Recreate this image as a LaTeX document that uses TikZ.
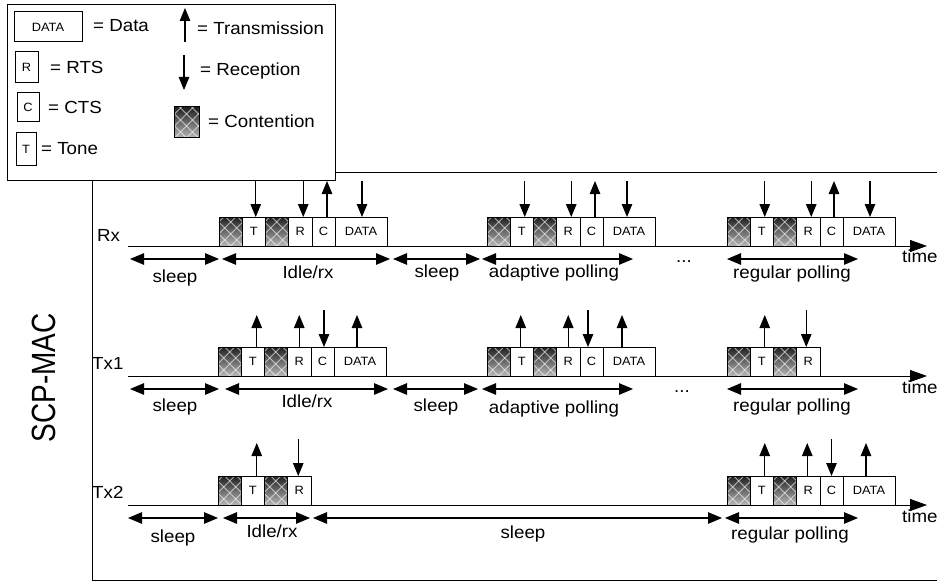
\documentclass[tikz,border=0pt]{standalone}
\usepackage{fontspec}
\setmainfont{Liberation Sans}[FakeStretch=1.07]
\newfontfamily\titlefont{Liberation Sans}
\usetikzlibrary{arrows.meta}
\newcommand{\fullseq}[3]{%
  \node[contbox] (#1c1) at (#2,#3) {};
  \node[tbox] (#1t) at (#1c1.south east) {T};
  \node[contbox] (#1c2) at (#1t.south east) {};
  \node[rbox] (#1r) at (#1c2.south east) {R};
  \node[cbox] (#1c) at (#1r.south east) {C};
  \node[databox] (#1d) at (#1c.south east) {DATA};
}
\newcommand{\shortseq}[3]{%
  \node[contbox] (#1c1) at (#2,#3) {};
  \node[tbox] (#1t) at (#1c1.south east) {T};
  \node[contbox] (#1c2) at (#1t.south east) {};
  \node[rbox] (#1r) at (#1c2.south east) {R};
}
\newcommand{\upsig}[3]{\draw[upar] ([xshift=#2pt]#1.north) -- ++(0,-#3);}
\newcommand{\dnsig}[3]{\draw[dnar] ([xshift=#2pt]#1.north) -- ++(0,-#3);}
\newcommand{\spanar}[4]{%
  \coordinate (#1a) at (#2,#4);
  \coordinate (#1b) at (#3,#4);
  \draw[spanar] (#1a) -- (#1b);
}
\newcommand{\lab}[4]{\node[lbl] (#1) at (#2,#3) {#4};}
\begin{document}
\begin{tikzpicture}[x=1pt,y=-1pt,
  lw/.style={line width=1pt},
  pktbase/.style={draw, line width=1pt, inner sep=0pt, outer sep=0pt,
    minimum height=29pt, anchor=south west, font=\fontsize{12}{13}\selectfont},
  pkt/.style={pktbase, fill=white},
  contbox/.style={pktbase, minimum width=23.5pt, top color=black!88, bottom color=black!28,
    path picture={
      \foreach \k in {-4,...,4}{
        \draw[white, opacity=0.6, line width=1pt]
          ([xshift=\k*12pt]path picture bounding box.south) -- ++(45pt,45pt);
        \draw[white, opacity=0.6, line width=1pt]
          ([xshift=\k*12pt]path picture bounding box.south) -- ++(-45pt,45pt);
      }}},
  tbox/.style={pkt, minimum width=22.5pt},
  rbox/.style={pkt, minimum width=23.5pt},
  cbox/.style={pkt, minimum width=23pt},
  databox/.style={pkt, minimum width=52pt},
  upar/.style={line width=1.1pt, -{Triangle[length=13pt,width=10.5pt]}},
  dnar/.style={line width=1.1pt, {Triangle[length=13pt,width=10.5pt]}-},
  spanar/.style={line width=1.1pt, {Triangle[length=14pt,width=11.5pt]}-{Triangle[length=14pt,width=11.5pt]}},
  axis/.style={line width=1pt, -{Triangle[length=17pt,width=12pt]}},
  lbl/.style={anchor=base, inner sep=0pt, font=\fontsize{17.5}{18}\selectfont},
  lblw/.style={anchor=base west, inner sep=0pt, font=\fontsize{17.5}{18}\selectfont},
]
\useasboundingbox (0,0) rectangle (937,583);
\fill[white] (0,0) rectangle (937,583);

% main frame
\coordinate (frTR) at (937,172);
\coordinate (frBL) at (92,580);
\coordinate (frBR) at (937,580);
\draw[lw] (frTR) -| (frBL) -- (frBR);

\node[rotate=90, inner sep=0pt, font=\fontsize{28}{28}\titlefont] (title) at (44,378) {\scalebox{1}[1.2]{SCP-MAC}};

% ---------- Rx row ----------
\node[lblw] (rxlab) at (97,241) {Rx};
\coordinate (rxs) at (128,246);
\coordinate (rxe) at (927,246);
\draw[axis] (rxs) -- (rxe);
\fullseq{rxa}{219}{246}
\fullseq{rxb}{487}{246}
\fullseq{rxc}{727}{246}
\dnsig{rxat}{2}{36}\dnsig{rxar}{3}{36}\upsig{rxac}{3.5}{36}\dnsig{rxad}{1}{36}
\dnsig{rxbt}{3}{36}\dnsig{rxbr}{3}{36}\upsig{rxbc}{3.5}{36}\dnsig{rxbd}{-2}{36}
\dnsig{rxct}{3}{36}\dnsig{rxcr}{3}{36}\upsig{rxcc}{2.5}{36}\dnsig{rxcd}{1}{36}
\spanar{rxsp1}{130}{219}{259}
\spanar{rxsp2}{222}{390}{259}
\spanar{rxsp3}{393}{480}{259}
\spanar{rxsp4}{482}{633}{259}
\spanar{rxsp5}{727}{858}{259}
\lab{rxl1}{175}{282}{sleep}
\lab{rxl2}{308}{278}{Idle/rx}
\lab{rxl3}{437}{277}{sleep}
\lab{rxl4}{554}{277}{adaptive polling}
\lab{rxl5}{684}{262}{...}
\lab{rxl6}{792}{278}{regular polling}
\node[lblw] (rxtime) at (902,262) {time};

% ---------- Tx1 row ----------
\node[lblw] (t1lab) at (92,369) {Tx1};
\coordinate (t1s) at (128,376);
\coordinate (t1e) at (927,376);
\draw[axis] (t1s) -- (t1e);
\fullseq{ta}{218}{376}
\fullseq{tb}{487}{376}
\shortseq{tc}{727}{376}
\upsig{tat}{4}{32}\upsig{tar}{0}{32}\dnsig{tac}{1.5}{37}\upsig{tad}{-3}{32}
\upsig{tbt}{-1}{32}\upsig{tbr}{0}{32}\dnsig{tbc}{-3.5}{37}\upsig{tbd}{-7}{32}
\upsig{tct}{3}{32}\dnsig{tcr}{-2}{37}
\spanar{t1sp1}{130}{219}{389}
\spanar{t1sp2}{225}{388}{389}
\spanar{t1sp3}{393}{478}{389}
\spanar{t1sp4}{482}{633}{389}
\spanar{t1sp5}{727}{858}{389}
\lab{t1l1}{175}{411}{sleep}
\lab{t1l2}{307}{407}{Idle/rx}
\lab{t1l3}{436}{411}{sleep}
\lab{t1l4}{554}{413}{adaptive polling}
\lab{t1l5}{682}{392}{...}
\lab{t1l6}{792}{411}{regular polling}
\node[lblw] (t1time) at (902,393) {time};

% ---------- Tx2 row ----------
\node[lblw] (t2lab) at (92,498) {Tx2};
\coordinate (t2s) at (128,505);
\coordinate (t2e) at (927,505);
\draw[axis] (t2s) -- (t2e);
\shortseq{ua}{218}{505}
\fullseq{ub}{727}{505}
\upsig{uat}{4}{33}\dnsig{uar}{-1}{37}
\upsig{ubt}{3}{33}\upsig{ubr}{-1}{33}\dnsig{ubc}{0}{37}\upsig{ubd}{-3}{33}
\spanar{t2sp1}{128}{218}{518}
\spanar{t2sp2}{223}{310}{518}
\spanar{t2sp3}{313}{722}{518}
\spanar{t2sp4}{725}{858}{518}
\lab{t2l1}{173}{542}{sleep}
\lab{t2l2}{272}{537}{Idle/rx}
\lab{t2l3}{523}{538}{sleep}
\lab{t2l4}{790}{539}{regular polling}
\node[lblw] (t2time) at (902,522) {time};

% ---------- legend ----------
\node[draw, fill=white, line width=1pt, inner sep=0pt, minimum width=328pt, minimum height=175pt] (legend) at (171,92.5) {};
\node[pkt, anchor=center, minimum width=68pt, minimum height=30pt] (lgdata) at (48,27) {DATA};
\node[lblw] (lgdatat) at (93,32) {= Data};
\node[pkt, anchor=center, minimum width=23pt, minimum height=31pt] (lgr) at (26.5,67.5) {R};
\node[lblw] (lgrt) at (50,74) {= RTS};
\node[pkt, anchor=center, minimum width=22pt, minimum height=29pt] (lgc) at (28,107.5) {C};
\node[lblw] (lgct) at (48,114) {= CTS};
\node[pkt, anchor=center, minimum width=20pt, minimum height=32pt] (lgt) at (26,149) {T};
\node[lblw] (lgtt) at (41,154) {= Tone};
\coordinate (lgupa) at (185,42);
\coordinate (lgupb) at (185,8);
\draw[upar] (lgupa) -- (lgupb);
\node[lblw] (lgupt) at (197,35) {= Transmission};
\coordinate (lgdna) at (184,55);
\coordinate (lgdnb) at (184,90);
\draw[upar] (lgdna) -- (lgdnb);
\node[lblw] (lgdnt) at (200,76) {= Reception};
\node[contbox, anchor=center, minimum width=25pt, minimum height=31pt] (lgcont) at (186.5,122.5) {};
\node[lblw] (lgcontt) at (208,128) {= Contention};
\end{tikzpicture}
\end{document}
